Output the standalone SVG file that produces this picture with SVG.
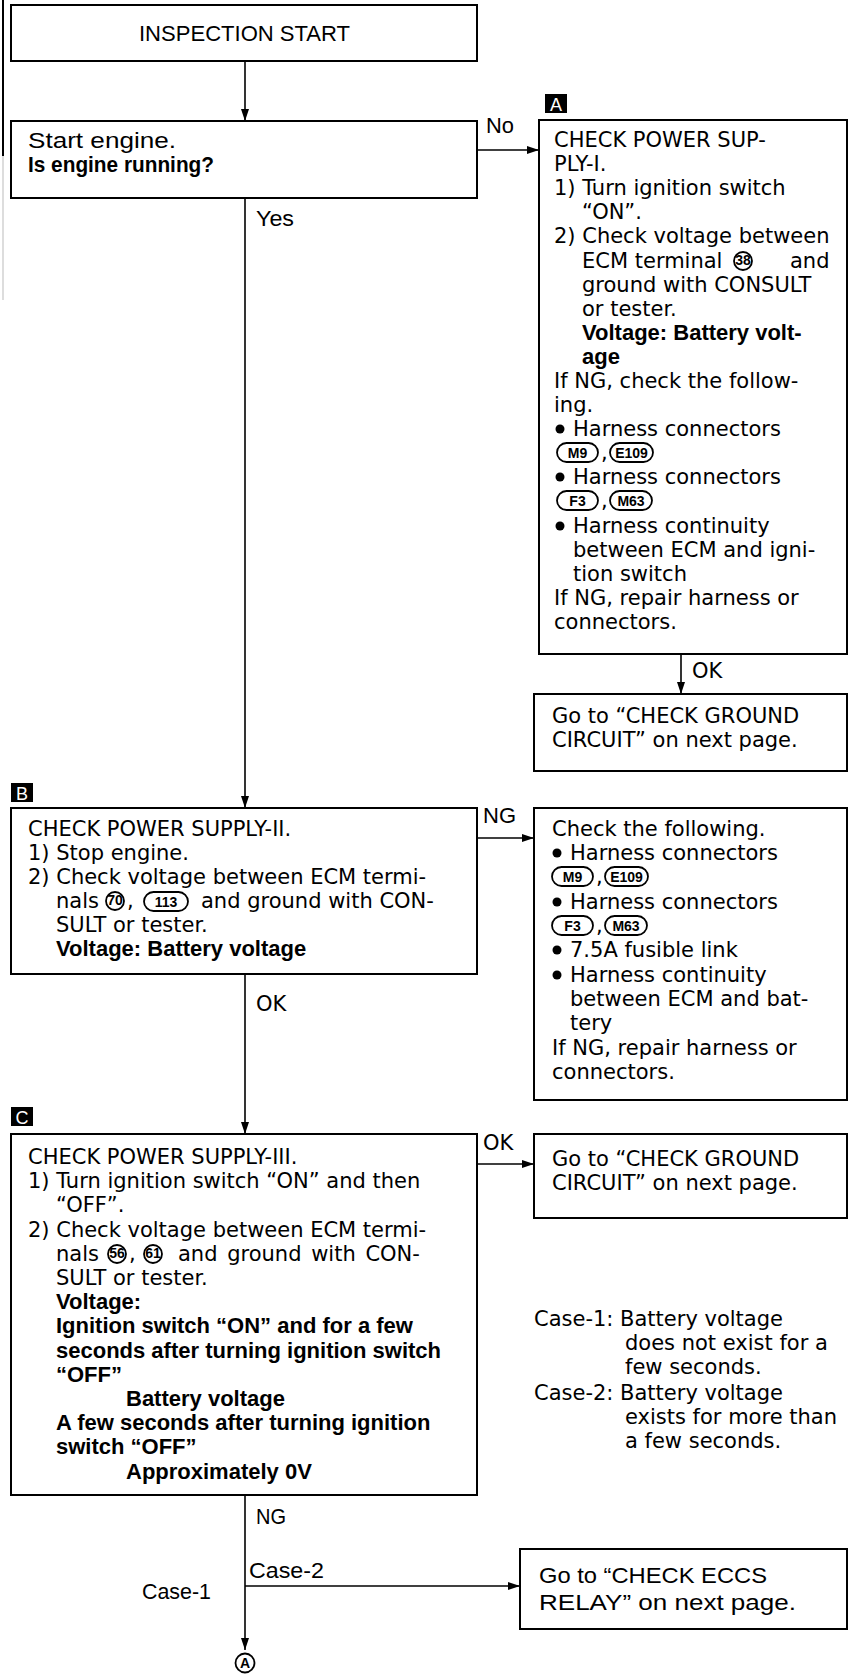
<svg xmlns="http://www.w3.org/2000/svg" width="849" height="1675" viewBox="0 0 849 1675">
<defs>
<marker id="ah" viewBox="0 0 12 8" refX="12" refY="4" markerWidth="12" markerHeight="8" markerUnits="userSpaceOnUse" orient="auto">
<path d="M0,0 L12,4 L0,8 z" fill="#000"/>
</marker>
<style>
.box{fill:#fff;stroke:#000;stroke-width:2}
.ln{fill:none;stroke:#000;stroke-width:1.6}
.t{font-family:"DejaVu Sans",sans-serif;font-size:21px;fill:#000}
.b{font-family:"Liberation Sans",Arial,sans-serif;font-weight:bold;font-size:22px;fill:#000}
.n{font-family:"Liberation Sans Narrow","Liberation Sans",Arial,sans-serif;font-size:22px;fill:#000}
.nb{font-family:"Liberation Sans Narrow","Liberation Sans",Arial,sans-serif;font-size:22px;font-weight:bold;fill:#000}
.pill{fill:#fff;stroke:#000;stroke-width:1.8}
.pt{font-family:"Liberation Sans Narrow","Liberation Sans",Arial,sans-serif;font-weight:bold;font-size:14px;text-anchor:middle;fill:#000}
.badge{fill:#000}
.bt{font-family:"Liberation Sans",Arial,sans-serif;font-size:18px;fill:#fff;text-anchor:middle}
.dot{fill:#000}
</style>
</defs>
<rect width="849" height="1675" fill="#fff"/>
<line x1="3" y1="0" x2="3" y2="156" stroke="#000" stroke-width="2"/>
<line x1="3" y1="156" x2="3" y2="300" stroke="#bbb" stroke-width="1"/>

<g id="connectors">
<line class="ln" x1="245" y1="61" x2="245" y2="121" marker-end="url(#ah)"/>
<line class="ln" x1="477" y1="150" x2="539" y2="150" marker-end="url(#ah)"/>
<line class="ln" x1="245" y1="198" x2="245" y2="808" marker-end="url(#ah)"/>
<line class="ln" x1="681" y1="654" x2="681" y2="694" marker-end="url(#ah)"/>
<line class="ln" x1="477" y1="838" x2="534" y2="838" marker-end="url(#ah)"/>
<line class="ln" x1="245" y1="974" x2="245" y2="1134" marker-end="url(#ah)"/>
<line class="ln" x1="477" y1="1164" x2="534" y2="1164" marker-end="url(#ah)"/>
<line class="ln" x1="245" y1="1495" x2="245" y2="1650" marker-end="url(#ah)"/>
<line class="ln" x1="245" y1="1586" x2="520" y2="1586" marker-end="url(#ah)"/>
<text class="n" x="486" y="133" textLength="28" lengthAdjust="spacingAndGlyphs">No</text>
<text class="n" x="256" y="226" textLength="38" lengthAdjust="spacingAndGlyphs">Yes</text>
<text class="t" x="692" y="678">OK</text>
<text class="n" x="483" y="823" textLength="33" lengthAdjust="spacingAndGlyphs">NG</text>
<text class="t" x="256" y="1011">OK</text>
<text class="t" x="483" y="1150">OK</text>
<text class="n" x="256" y="1524" textLength="30" lengthAdjust="spacingAndGlyphs">NG</text>
<text class="n" x="249" y="1578" textLength="75" lengthAdjust="spacingAndGlyphs">Case-2</text>
<text class="n" x="142" y="1599" textLength="69" lengthAdjust="spacingAndGlyphs">Case-1</text>
</g>

<g id="start">
<rect class="box" x="11" y="5" width="466" height="56"/>
<text class="n" x="139" y="41" textLength="211" lengthAdjust="spacingAndGlyphs">INSPECTION START</text>
</g>

<g id="engine">
<rect class="box" x="11" y="121" width="466" height="77"/>
<text class="n" x="28" y="148" textLength="148" lengthAdjust="spacingAndGlyphs">Start engine.</text>
<text class="nb" x="28" y="172" textLength="186" lengthAdjust="spacingAndGlyphs">Is engine running?</text>
</g>

<g id="nodeA">
<rect class="badge" x="545" y="94" width="22" height="19"/>
<text class="bt" x="556" y="111">A</text>
<rect class="box" x="539" y="120" width="308" height="534"/>
<text class="t" x="554" y="147">CHECK POWER SUP-</text>
<text class="t" x="554" y="171">PLY-I.</text>
<text class="t" x="554" y="195">1) Turn ignition switch</text>
<text class="t" x="582" y="219">“ON”.</text>
<text class="t" x="554" y="243">2) Check voltage between</text>
<text class="t" x="582" y="268">ECM terminal</text>
<circle class="pill" cx="743" cy="261" r="9"/>
<text class="pt" x="743" y="265" font-size="11">38</text>
<text class="t" x="790" y="268">and</text>
<text class="t" x="582" y="292">ground with CONSULT</text>
<text class="t" x="582" y="316">or tester.</text>
<text class="b" x="582" y="340">Voltage: Battery volt-</text>
<text class="b" x="582" y="364">age</text>
<text class="t" x="554" y="388">If NG, check the follow-</text>
<text class="t" x="554" y="412">ing.</text>
<circle class="dot" cx="560" cy="429" r="4.5"/>
<text class="t" x="573" y="436">Harness connectors</text>
<rect class="pill" x="557" y="443" width="41" height="19" rx="9.5"/>
<text class="pt" x="577.5" y="458">M9</text>
<text class="t" x="601" y="460">,</text>
<rect class="pill" x="610" y="443" width="43" height="19" rx="9.5"/>
<text class="pt" x="631.5" y="458">E109</text>
<circle class="dot" cx="560" cy="477" r="4.5"/>
<text class="t" x="573" y="484">Harness connectors</text>
<rect class="pill" x="557" y="491" width="41" height="19" rx="9.5"/>
<text class="pt" x="577.5" y="506">F3</text>
<text class="t" x="601" y="508">,</text>
<rect class="pill" x="610" y="491" width="42" height="19" rx="9.5"/>
<text class="pt" x="631" y="506">M63</text>
<circle class="dot" cx="560" cy="526" r="4.5"/>
<text class="t" x="573" y="533">Harness continuity</text>
<text class="t" x="573" y="557">between ECM and igni-</text>
<text class="t" x="573" y="581">tion switch</text>
<text class="t" x="554" y="605">If NG, repair harness or</text>
<text class="t" x="554" y="629">connectors.</text>
</g>

<g id="gotoGround1">
<rect class="box" x="534" y="694" width="313" height="77"/>
<text class="t" x="552" y="723">Go to “CHECK GROUND</text>
<text class="t" x="552" y="747">CIRCUIT” on next page.</text>
</g>

<g id="nodeB">
<rect class="badge" x="11" y="783" width="22" height="19"/>
<text class="bt" x="22" y="800">B</text>
<rect class="box" x="11" y="808" width="466" height="166"/>
<text class="t" x="28" y="836">CHECK POWER SUPPLY-II.</text>
<text class="t" x="28" y="860">1) Stop engine.</text>
<text class="t" x="28" y="884">2) Check voltage between ECM termi-</text>
<text class="t" x="56" y="908">nals</text>
<circle class="pill" cx="115" cy="901" r="9"/>
<text class="pt" x="115" y="905" font-size="11">70</text>
<text class="t" x="127" y="908">,</text>
<rect class="pill" x="144" y="892" width="44" height="19" rx="9.5"/>
<text class="pt" x="166" y="907">113</text>
<text class="t" x="201" y="908">and ground with CON-</text>
<text class="t" x="56" y="932">SULT or tester.</text>
<text class="b" x="56" y="956">Voltage: Battery voltage</text>
</g>

<g id="checkFollowing">
<rect class="box" x="534" y="808" width="313" height="292"/>
<text class="t" x="552" y="836">Check the following.</text>
<circle class="dot" cx="557" cy="853" r="4.5"/>
<text class="t" x="570" y="860">Harness connectors</text>
<rect class="pill" x="552" y="867" width="41" height="19" rx="9.5"/>
<text class="pt" x="572.5" y="882">M9</text>
<text class="t" x="596" y="884">,</text>
<rect class="pill" x="605" y="867" width="43" height="19" rx="9.5"/>
<text class="pt" x="626.5" y="882">E109</text>
<circle class="dot" cx="557" cy="902" r="4.5"/>
<text class="t" x="570" y="909">Harness connectors</text>
<rect class="pill" x="552" y="916" width="41" height="19" rx="9.5"/>
<text class="pt" x="572.5" y="931">F3</text>
<text class="t" x="596" y="933">,</text>
<rect class="pill" x="605" y="916" width="42" height="19" rx="9.5"/>
<text class="pt" x="626" y="931">M63</text>
<circle class="dot" cx="557" cy="950" r="4.5"/>
<text class="t" x="570" y="957">7.5A fusible link</text>
<circle class="dot" cx="557" cy="975" r="4.5"/>
<text class="t" x="570" y="982">Harness continuity</text>
<text class="t" x="570" y="1006">between ECM and bat-</text>
<text class="t" x="570" y="1030">tery</text>
<text class="t" x="552" y="1055">If NG, repair harness or</text>
<text class="t" x="552" y="1079">connectors.</text>
</g>

<g id="nodeC">
<rect class="badge" x="11" y="1107" width="22" height="19"/>
<text class="bt" x="22" y="1124">C</text>
<rect class="box" x="11" y="1134" width="466" height="361"/>
<text class="t" x="28" y="1164">CHECK POWER SUPPLY-III.</text>
<text class="t" x="28" y="1188">1) Turn ignition switch “ON” and then</text>
<text class="t" x="56" y="1212">“OFF”.</text>
<text class="t" x="28" y="1237">2) Check voltage between ECM termi-</text>
<text class="t" x="56" y="1261">nals</text>
<circle class="pill" cx="117" cy="1254" r="9"/>
<text class="pt" x="117" y="1258" font-size="11">56</text>
<text class="t" x="129" y="1261">,</text>
<circle class="pill" cx="153" cy="1254" r="9"/>
<text class="pt" x="153" y="1258" font-size="11">61</text>
<text class="t" x="178" y="1261" word-spacing="3">and ground with CON-</text>
<text class="t" x="56" y="1285">SULT or tester.</text>
<text class="b" x="56" y="1309">Voltage:</text>
<text class="b" x="56" y="1333">Ignition switch “ON” and for a few</text>
<text class="b" x="56" y="1358">seconds after turning ignition switch</text>
<text class="b" x="56" y="1382">“OFF”</text>
<text class="b" x="126" y="1406">Battery voltage</text>
<text class="b" x="56" y="1430">A few seconds after turning ignition</text>
<text class="b" x="56" y="1454">switch “OFF”</text>
<text class="b" x="126" y="1479">Approximately 0V</text>
</g>

<g id="gotoGround2">
<rect class="box" x="534" y="1134" width="313" height="84"/>
<text class="t" x="552" y="1166">Go to “CHECK GROUND</text>
<text class="t" x="552" y="1190">CIRCUIT” on next page.</text>
</g>

<g id="caseNote">
<text class="t" x="534" y="1326">Case-1: Battery voltage</text>
<text class="t" x="625" y="1350">does not exist for a</text>
<text class="t" x="625" y="1374">few seconds.</text>
<text class="t" x="534" y="1400">Case-2: Battery voltage</text>
<text class="t" x="625" y="1424">exists for more than</text>
<text class="t" x="625" y="1448">a few seconds.</text>
</g>

<g id="gotoEccs">
<rect class="box" x="520" y="1549" width="327" height="80"/>
<text class="n" x="539" y="1583" textLength="228" lengthAdjust="spacingAndGlyphs">Go to “CHECK ECCS</text>
<text class="n" x="539" y="1610" textLength="257" lengthAdjust="spacingAndGlyphs">RELAY” on next page.</text>
</g>

<g id="connectorA">
<circle class="pill" cx="245" cy="1663" r="9.5"/>
<text class="pt" x="245" y="1668" font-size="13">A</text>
</g>
</svg>
